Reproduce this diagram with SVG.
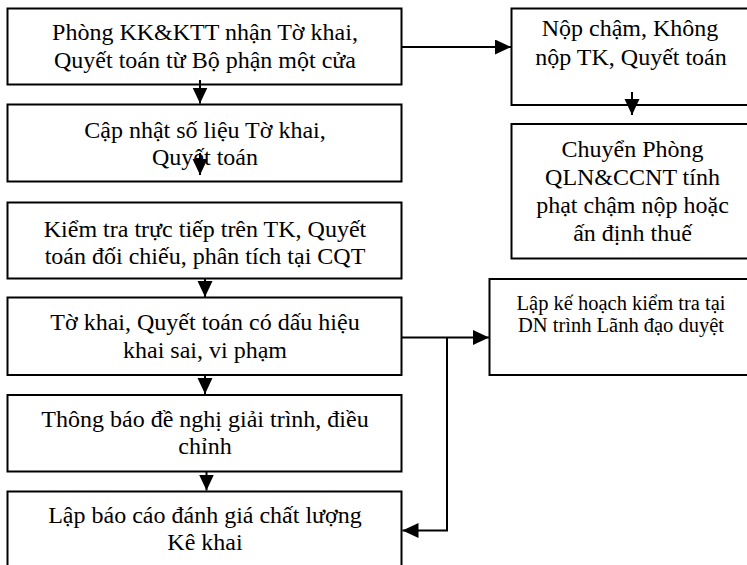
<svg xmlns="http://www.w3.org/2000/svg" width="747" height="565" viewBox="0 0 747 565">
<style>
.box{fill:#fff;stroke:#000;stroke-width:2}
.t{font-family:"Liberation Serif","Times New Roman",serif;font-size:24px;fill:#000;text-anchor:middle}
.s{font-size:20.5px}
.c{fill:none;stroke:#000;stroke-width:2}
</style>
<defs>
<marker id="ah" markerUnits="userSpaceOnUse" markerWidth="17" markerHeight="16" refX="16" refY="7.5" orient="auto">
<path d="M0,0 L16,7.5 L0,15 z" fill="#000"/>
</marker>
</defs>
<rect width="747" height="565" fill="#fff"/>
<g id="n1"><rect class="box" x="7.5" y="8.5" width="394" height="76"/>
<text class="t" x="205" y="40">Phòng KK&amp;KTT nhận Tờ khai,</text>
<text class="t" x="205" y="68">Quyết toán từ Bộ phận một cửa</text></g>
<g id="n2"><rect class="box" x="7.5" y="104.5" width="394" height="77"/>
<text class="t" x="205" y="138">Cập nhật số liệu Tờ khai,</text>
<text class="t" x="205" y="165">Quyết toán</text></g>
<g id="n3"><rect class="box" x="7.5" y="202.5" width="394" height="76"/>
<text class="t" x="205" y="236.5">Kiểm tra trực tiếp trên TK, Quyết</text>
<text class="t" x="205" y="264">toán đối chiếu, phân tích tại CQT</text></g>
<g id="n4"><rect class="box" x="7.5" y="297.5" width="394" height="77.5"/>
<text class="t" x="205" y="330">Tờ khai, Quyết toán có dấu hiệu</text>
<text class="t" x="205" y="358">khai sai, vi phạm</text></g>
<g id="n5"><rect class="box" x="7.5" y="395" width="394" height="76.5"/>
<text class="t" x="205" y="426.5">Thông báo đề nghị giải trình, điều</text>
<text class="t" x="205" y="453.5">chỉnh</text></g>
<g id="n6"><rect class="box" x="7.5" y="491.5" width="394" height="90"/>
<text class="t" x="205" y="523">Lập báo cáo đánh giá chất lượng</text>
<text class="t" x="205" y="550">Kê khai</text></g>
<g id="nA"><rect class="box" x="511.5" y="8.5" width="250" height="96.5"/>
<text class="t" x="630" y="36">Nộp chậm, Không</text>
<text class="t" x="631" y="65">nộp TK, Quyết toán</text></g>
<g id="nB"><rect class="box" x="511.5" y="124" width="250" height="134.5"/>
<text class="t" x="632.5" y="156.5">Chuyển Phòng</text>
<text class="t" x="632.5" y="185">QLN&amp;CCNT tính</text>
<text class="t" x="632.5" y="213">phạt chậm nộp hoặc</text>
<text class="t" x="632.5" y="240.5">ấn định thuế</text></g>
<g id="nC"><rect class="box" x="489.5" y="279" width="270" height="96"/>
<text class="t s" x="621" y="310">Lập kế hoạch kiểm tra tại</text>
<text class="t s" x="621" y="332">DN trình Lãnh đạo duyệt</text></g>
<g id="connectors">
<line class="c" x1="200" y1="80" x2="200" y2="103.5" marker-end="url(#ah)"/>
<line class="c" x1="200" y1="153" x2="200" y2="175" marker-end="url(#ah)"/>
<line class="c" x1="205" y1="278.5" x2="205" y2="297" marker-end="url(#ah)"/>
<line class="c" x1="205" y1="375" x2="205" y2="394" marker-end="url(#ah)"/>
<line class="c" x1="206.5" y1="471.5" x2="206.5" y2="490.5" marker-end="url(#ah)"/>
<line class="c" x1="401.5" y1="47" x2="511" y2="47" marker-end="url(#ah)"/>
<line class="c" x1="632" y1="92" x2="632" y2="115" marker-end="url(#ah)"/>
<line class="c" x1="401.5" y1="337.5" x2="489" y2="337.5" marker-end="url(#ah)"/>
<polyline class="c" points="447,337.5 447,530.5 402.5,530.5" marker-end="url(#ah)"/>
</g>
</svg>
